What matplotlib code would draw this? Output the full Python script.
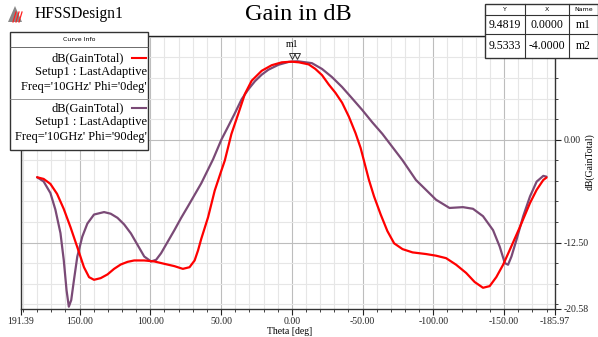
import matplotlib
matplotlib.use("Agg")
import matplotlib.pyplot as plt
import matplotlib.transforms as mtransforms
from matplotlib.patches import Rectangle, Polygon
from matplotlib.lines import Line2D
import numpy as np

plt.rcParams['font.family'] = ['Liberation Serif', 'DejaVu Serif']

# Data: theta (deg) and gain (dB)
theta_phi0 = [180, 175.4, 170.6, 165.9, 161.2, 156.4, 151.6, 146.9, 143.3, 139.8, 135.1,
              130.3, 125.6, 120.9, 116.1, 111.4, 104.3, 97.2, 90.1, 83, 77, 72.3, 68.7,
              66.3, 64, 59.2, 54.5, 49.8, 47.4, 42.7, 37.9, 33.2, 28.4, 21.3, 14.2, 7.1,
              0, -5, -11.9, -16.6, -21.3, -26.1, -30.8, -35.5, -40.3, -45, -48.6, -54.5,
              -58.1, -62.8, -67.5, -72.3, -78.2, -85.3, -94.8, -101.9, -109, -116.1,
              -123.2, -129.2, -135.1, -139.8, -144.5, -149.3, -154, -161.2, -168.3,
              -173, -177.7, -180]
gain_phi0 = [-4.57, -4.77, -5.38, -6.59, -8.41, -10.64, -13.07, -15.5, -16.71, -17.03,
             -16.83, -16.38, -15.7, -15.17, -14.85, -14.68, -14.68, -14.8, -15.09, -15.37,
             -15.7, -15.5, -14.68, -13.47, -12.05, -9.43, -6.19, -3.76, -2.55, 0.69, 3.12,
             5.55, 7.16, 8.37, 9.05, 9.4, 9.48, 9.4, 9.15, 8.6, 7.85, 6.7, 5.7, 4.5, 2.8,
             0.8, -1.0, -4.9, -6.9, -9.1, -11.1, -12.6, -13.3, -13.7, -13.9, -14.1, -14.4,
             -15.2, -16.2, -17.3, -18.0, -17.8, -16.7, -15.2, -13.4, -10.6, -7.7, -6.1,
             -4.9, -4.6]

theta_phi90 = [180, 175.4, 170.6, 167.1, 163.5, 161.2, 159.2, 157.6, 155.9, 154, 151.6,
               148.1, 144.5, 139.8, 132.7, 128, 123.2, 118.5, 113.7, 109, 104.3, 99.5,
               95.9, 92.4, 87.7, 83, 78.2, 73.4, 68.7, 64, 55.7, 49.8, 45, 40.3, 35.5,
               30.8, 26.1, 21.3, 16.6, 9.5, 2.3, -4, -14.2, -21.3, -28.4, -35.5, -42.7,
               -49.8, -56.9, -64, -71.1, -78.2, -87.7, -94.8, -101.9, -111.4, -120.9,
               -128, -135.1, -142.2, -146.9, -150.5, -152.8, -155.2, -158.7, -163.5,
               -168.3, -173, -177.7, -180]
gain_phi90 = [-4.57, -5.08, -6.49, -8.5, -11.36, -14.6, -18.3, -20.3, -19.5, -17.1,
              -14.2, -11.8, -10.2, -9.1, -8.8, -9.0, -9.5, -10.3, -11.4, -12.8, -14.2,
              -14.8, -14.6, -13.8, -12.4, -11.0, -9.5, -8.1, -6.7, -5.3, -2.4, 0.0, 1.6,
              3.2, 4.9, 6.1, 7.1, 7.9, 8.5, 9.1, 9.45, 9.53, 9.3, 8.6, 7.6, 6.4, 5.0, 3.6,
              2.1, 0.7, -0.9, -2.5, -4.9, -6.1, -7.3, -8.3, -8.2, -8.4, -9.3, -11.0,
              -13.0, -15.0, -15.2, -14.2, -12.2, -9.3, -6.9, -5.1, -4.4, -4.5]

marker_names = ["m1", "m2"]
marker_x = [0.0, -4.0]
marker_y = [9.4819, 9.5333]

x_ticks = [191.39, 150, 100, 50, 0, -50, -100, -150, -185.97]
y_ticks = [0.0, -12.5, -20.58]

RED = '#ff0000'
PURPLE = '#7a4a76'

W, H = 598, 337
fig = plt.figure(figsize=(W / 100, H / 100), dpi=100)

def fx(px):
    return px / W

def fy(py):
    return 1 - py / H

ax = fig.add_axes([fx(21), fy(309), fx(555) - fx(21), fy(36) - fy(309)])
ax.set_xlim(191.39, -185.97)
ax.set_ylim(-20.58, 12.6)

# grid
for v in np.arange(-180, 191, 10):
    c = '#bdbdbd' if v in (150, 100, 50, 0, -50, -100, -150) else '#e6e6e6'
    ax.axvline(v, color=c, lw=0.8, zorder=0)
for v in np.arange(-20, 12.6, 2.5):
    c = '#bdbdbd' if v in (0.0, -12.5) else '#e6e6e6'
    ax.axhline(v, color=c, lw=0.8, zorder=0)

ax.plot(theta_phi0, gain_phi0, color=RED, lw=1.6, zorder=3,
        solid_capstyle='round', solid_joinstyle='round')
ax.plot(theta_phi90, gain_phi90, color=PURPLE, lw=1.6, zorder=2,
        solid_capstyle='round', solid_joinstyle='round')

# markers
off = mtransforms.offset_copy(ax.transData, fig=fig, x=0, y=4, units='points')
for mx, my in zip(marker_x, marker_y):
    ax.plot([mx], [my], marker='v', ms=4.5, mfc='none', mec='#333333', mew=0.7,
            transform=off, zorder=5)
ax.text(0, 9.5, "m1", transform=mtransforms.offset_copy(ax.transData, fig=fig, x=0, y=9, units='points'),
        ha='center', va='bottom', fontsize=7, zorder=5)

# axes styling
ax.yaxis.tick_right()
ax.set_xticks(x_ticks)
ax.set_xticklabels(["%.2f" % v for v in x_ticks], fontsize=7)
ax.set_xticks(np.arange(-180, 191, 10), minor=True)
ax.set_yticks(y_ticks)
ax.set_yticklabels(["%.2f" % v for v in y_ticks], fontsize=7)
ax.set_yticks(np.arange(-20, 12.6, 2.5), minor=True)
ax.tick_params(axis='both', which='major', length=4, width=0.8, colors='#222222', pad=2)
ax.tick_params(axis='both', which='minor', length=2.5, width=0.6, colors='#222222')
for s in ax.spines.values():
    s.set_color('#333333')
    s.set_linewidth(1.0)
ax.spines['top'].set_color('#222222')

fig.text(fx(290), fy(331), "Theta [deg]", ha='center', va='center', fontsize=7)
fig.text(fx(590), fy(162), "dB(GainTotal)", ha='center', va='center', fontsize=7, rotation=90)

# title and design name
fig.text(fx(298), fy(15), "Gain in dB", ha='center', va='center', fontsize=17.5)
fig.text(fx(35), fy(14), "HFSSDesign1", ha='left', va='center', fontsize=11.2)
logo = Polygon([[fx(8), fy(22)], [fx(15), fy(6)], [fx(22), fy(22)]], closed=True,
               transform=fig.transFigure, facecolor='#888888', edgecolor='none')
fig.patches.append(logo)
for k in range(3):
    fig.lines.append(Line2D([fx(13 + 3 * k), fx(16 + 3 * k)], [fy(22), fy(12)],
                            transform=fig.transFigure, color='#ff2020', lw=0.9))

# legend box
lx0, lx1, ly0, ly1 = 10, 148, 32, 150
fig.patches.append(Rectangle((fx(lx0), fy(ly1)), fx(lx1) - fx(lx0), fy(ly0) - fy(ly1),
                             transform=fig.transFigure, facecolor='white', edgecolor='#333333',
                             lw=1.0, zorder=10))
fig.lines.append(Line2D([fx(lx0), fx(lx1)], [fy(47), fy(47)], transform=fig.transFigure,
                        color='#555555', lw=0.6, zorder=11))
fig.lines.append(Line2D([fx(lx0), fx(lx1)], [fy(99), fy(99)], transform=fig.transFigure,
                        color='#888888', lw=0.6, zorder=11))
fig.text(fx((lx0 + lx1) / 2), fy(39.5), "Curve Info", ha='center', va='center', fontsize=4.5,
         family='DejaVu Sans', zorder=12)
entries = [("dB(GainTotal)", "Setup1 : LastAdaptive", "Freq='10GHz' Phi='0deg'", RED, 58),
           ("dB(GainTotal)", "Setup1 : LastAdaptive", "Freq='10GHz' Phi='90deg'", PURPLE, 108)]
for l1, l2, l3, col, y0 in entries:
    fig.lines.append(Line2D([fx(132), fx(146)], [fy(y0), fy(y0)], transform=fig.transFigure,
                            color=col, lw=1.5, zorder=12))
    fig.text(fx(124), fy(y0), l1, ha='right', va='center', fontsize=9, zorder=12)
    fig.text(fx(147), fy(y0 + 14.5), l2, ha='right', va='center', fontsize=9, zorder=12)
    fig.text(fx(147), fy(y0 + 29), l3, ha='right', va='center', fontsize=9, zorder=12)

# marker table
tx = [485, 525, 569, 598]
ty = [4, 15, 34, 58]
fig.patches.append(Rectangle((fx(tx[0]), fy(ty[-1])), fx(tx[-1]) - fx(tx[0]), fy(ty[0]) - fy(ty[-1]),
                             transform=fig.transFigure, facecolor='white', edgecolor='#333333',
                             lw=1.0, zorder=10))
for xv in tx[1:-1]:
    fig.lines.append(Line2D([fx(xv), fx(xv)], [fy(ty[0]), fy(ty[-1])], transform=fig.transFigure,
                            color='#333333', lw=0.8, zorder=11))
for yv in ty[1:-1]:
    fig.lines.append(Line2D([fx(tx[0]), fx(tx[-1])], [fy(yv), fy(yv)], transform=fig.transFigure,
                            color='#333333', lw=0.8, zorder=11))
headers = ["Y", "X", "Name"]
for j, h in enumerate(headers):
    fig.text(fx((tx[j] + tx[j + 1]) / 2), fy(9.5), h, ha='center', va='center', fontsize=4.5,
             family='DejaVu Sans', zorder=12)
for r, (nm, xv, yv) in enumerate(zip(marker_names, marker_x, marker_y)):
    yc = (ty[r + 1] + ty[r + 2]) / 2
    vals = ["%.4f" % yv, "%.4f" % xv, nm]
    for j, v in enumerate(vals):
        fig.text(fx((tx[j] + tx[j + 1]) / 2), fy(yc), v, ha='center', va='center', fontsize=8.5, zorder=12)

fig.savefig("out.png", dpi=100)
